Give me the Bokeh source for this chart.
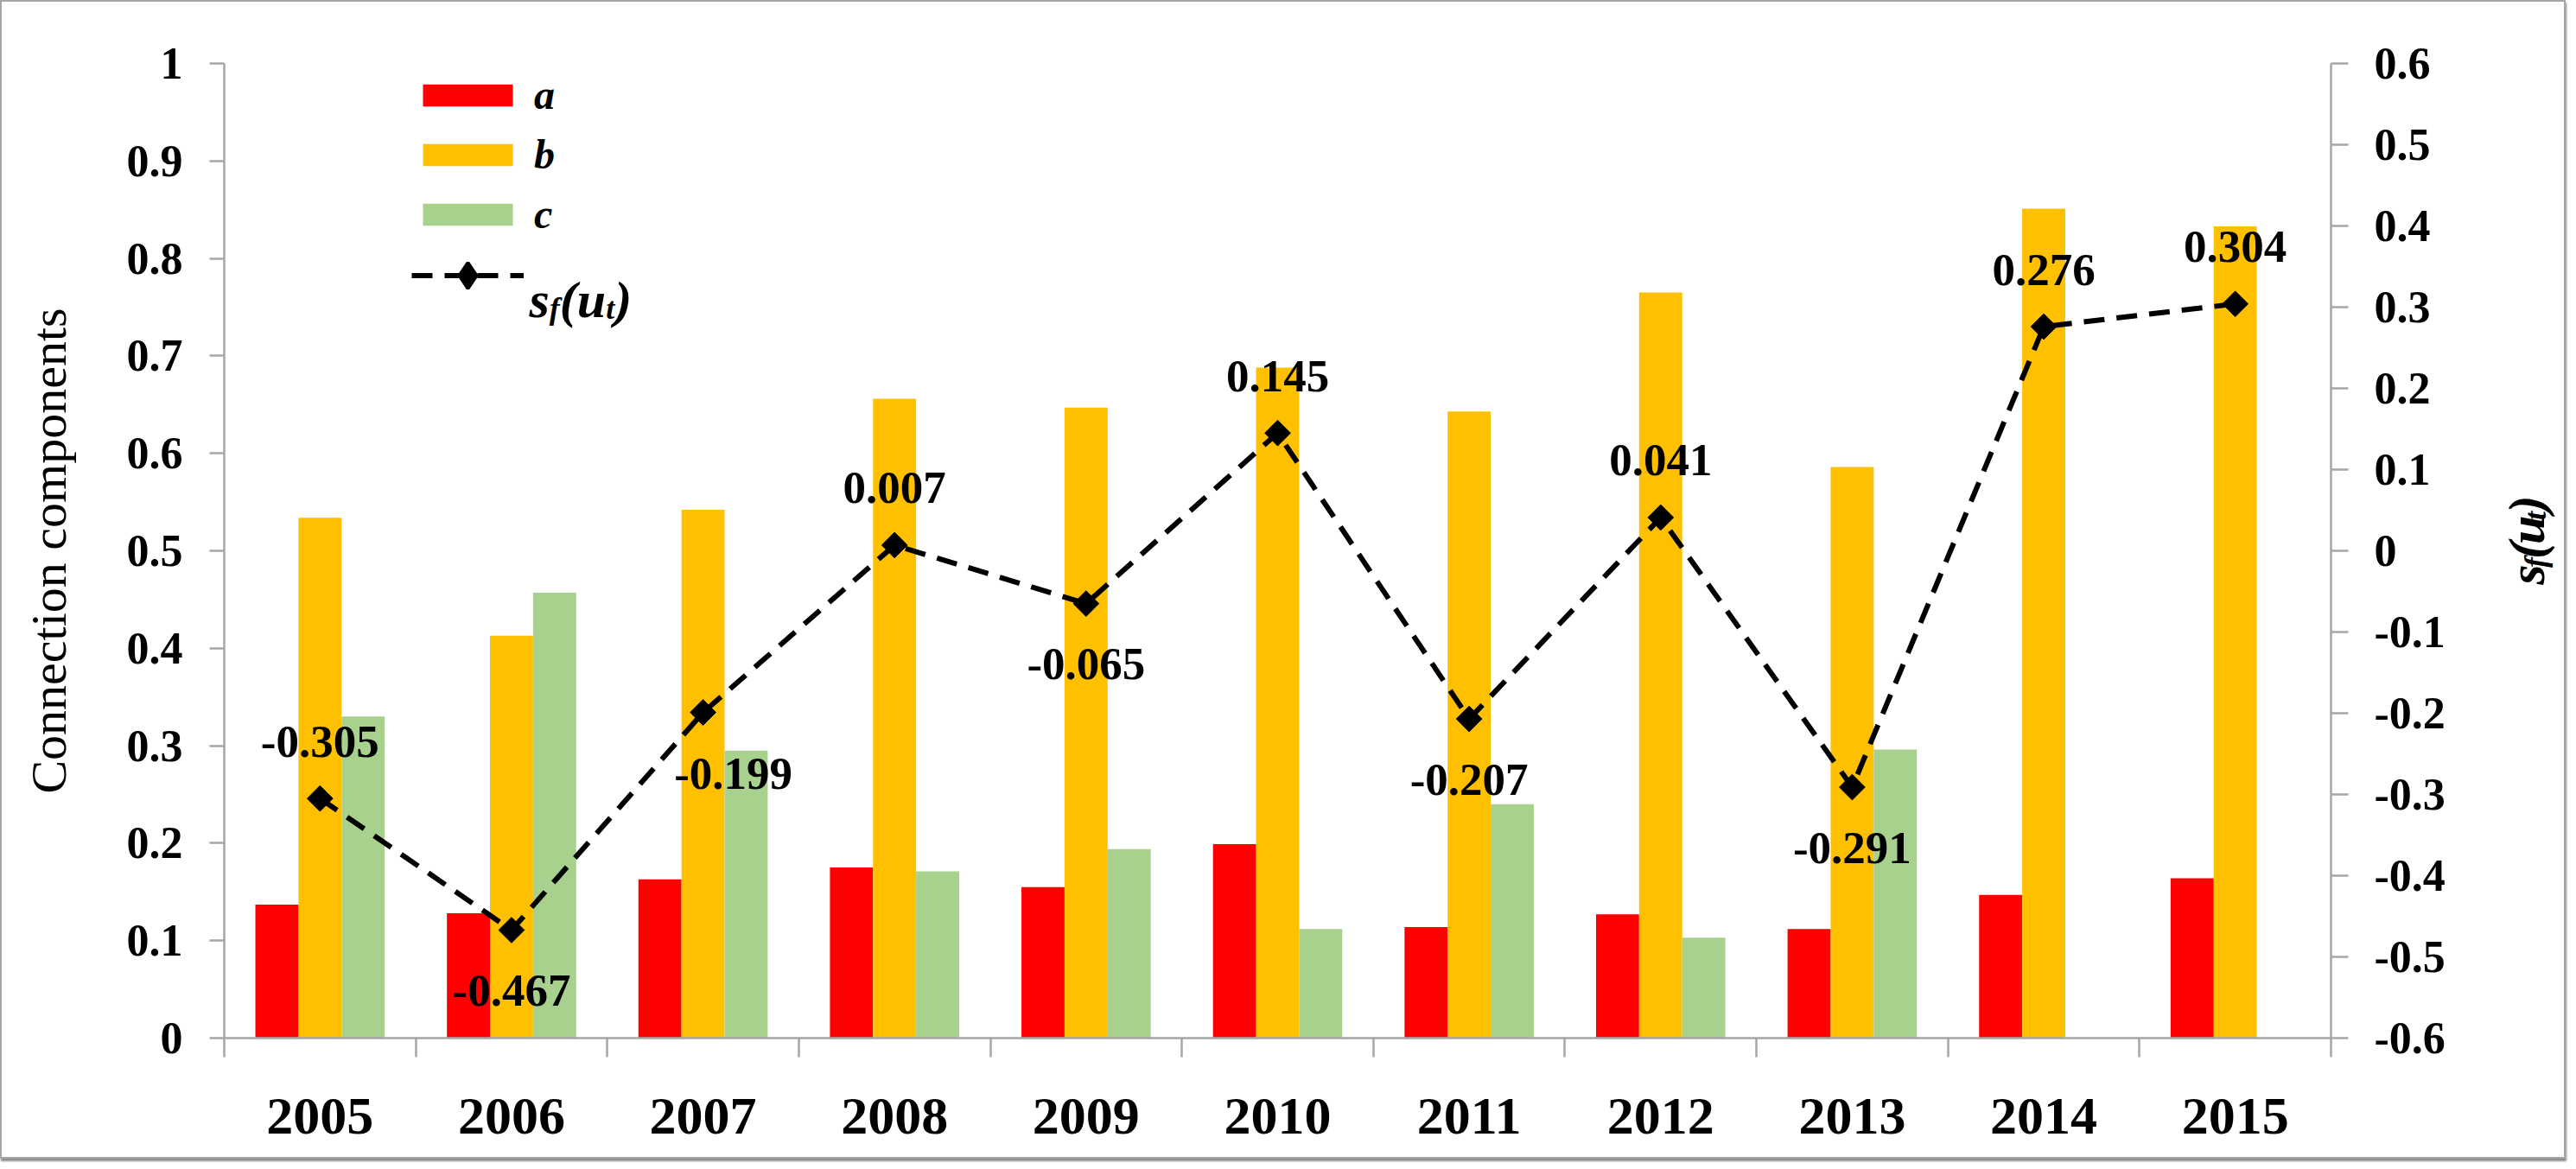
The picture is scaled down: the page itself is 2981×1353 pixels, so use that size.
import math
from bokeh.plotting import figure
from bokeh.layouts import row
from bokeh.models import (Range1d, LinearAxis, FixedTicker, CustomJSTickFormatter,
                          Legend, LegendItem, Label, ColumnDataSource)
from bokeh.transform import dodge
from bokeh.embed import file_html
from bokeh.resources import INLINE
from bokeh.core.properties import value

# ---------------- data ----------------
years = ["2005", "2006", "2007", "2008", "2009", "2010", "2011", "2012", "2013", "2014", "2015"]
comp_a = [0.137, 0.128, 0.163, 0.175, 0.155, 0.199, 0.114, 0.127, 0.112, 0.147, 0.164]
comp_b = [0.534, 0.413, 0.542, 0.656, 0.647, 0.688, 0.643, 0.765, 0.586, 0.851, 0.833]
comp_c = [0.330, 0.457, 0.295, 0.171, 0.194, 0.112, 0.240, 0.103, 0.296, 0.0, 0.0]
sf_ut = [-0.305, -0.467, -0.199, 0.007, -0.065, 0.145, -0.207, 0.041, -0.291, 0.276, 0.304]
label_place = ["above", "below", "below-right", "above", "below", "above",
               "below", "above", "below", "above", "above"]
left_ticks = [0, 0.1, 0.2, 0.3, 0.4, 0.5, 0.6, 0.7, 0.8, 0.9, 1]
right_ticks = [-0.6, -0.5, -0.4, -0.3, -0.2, -0.1, 0, 0.1, 0.2, 0.3, 0.4, 0.5, 0.6]

# ---------------- style ----------------
FONT = "Liberation Serif"
RED, YEL, GRN = "#FF0000", "#FFC000", "#A9D18E"
AX = "#A6A6A6"
BAR_W = 0.225
FIG_H = 1337

place_off = {"above": (0, -66), "below": (0, 70), "below-right": (35, 71)}
xs = list(range(len(years)))
src = ColumnDataSource(dict(
    x=xs, a=comp_a, b=comp_b, c=comp_c, sf=sf_ut,
    lbl=[f"{v:.3f}" for v in sf_ut],
    xo=[place_off[k][0] for k in label_place],
    yo=[place_off[k][1] for k in label_place],
))

p = figure(frame_width=2438, frame_height=1128,
           x_range=Range1d(-0.5, len(years) - 0.5), y_range=Range1d(0, 1),
           output_backend="svg", toolbar_location=None,
           min_border_left=257, min_border_right=155, min_border_top=71,
           min_border_bottom=FIG_H - 1128 - 71)
p.extra_y_ranges = {"sf": Range1d(-0.6, 0.6)}
p.grid.visible = False
p.outline_line_color = None
p.background_fill_color = "white"
p.border_fill_color = "white"

fmt = CustomJSTickFormatter(code="return String(Math.round(tick*10)/10);")

# x axis
xa = p.xaxis[0]
xa.ticker = FixedTicker(ticks=xs, minor_ticks=[i - 0.5 for i in range(len(years) + 1)])
xa.major_label_overrides = {i: y for i, y in enumerate(years)}
xa.major_tick_line_color = None
xa.major_tick_out = 0
xa.major_tick_in = 0
xa.minor_tick_out = 22
xa.minor_tick_in = 0
xa.minor_tick_line_color = AX
xa.minor_tick_line_width = 2.5
xa.axis_line_color = AX
xa.axis_line_width = 2.5
xa.major_label_text_font = FONT
xa.major_label_text_font_size = "62px"
xa.major_label_text_font_style = "bold"
xa.major_label_text_color = "black"
xa.major_label_standoff = 48

# left axis
ya = p.yaxis[0]
ya.ticker = FixedTicker(ticks=left_ticks)
ya.formatter = fmt
ya.major_tick_out = 17
ya.major_tick_in = 0
ya.minor_tick_line_color = None
ya.major_tick_line_color = AX
ya.major_tick_line_width = 2.5
ya.axis_line_color = AX
ya.axis_line_width = 2.5
ya.major_label_text_font = FONT
ya.major_label_text_font_size = "52px"
ya.major_label_text_font_style = "bold"
ya.major_label_text_color = "black"
ya.major_label_standoff = 31
ya.axis_label = "Connection components"
ya.axis_label_text_font = FONT
ya.axis_label_text_font_size = "58px"
ya.axis_label_text_font_style = "normal"
ya.axis_label_text_color = "black"
ya.axis_label_standoff = 55

# right axis
ra = LinearAxis(y_range_name="sf", ticker=FixedTicker(ticks=right_ticks), formatter=fmt)
ra.major_tick_out = 20
ra.major_tick_in = 0
ra.minor_tick_line_color = None
ra.major_tick_line_color = AX
ra.major_tick_line_width = 2.5
ra.axis_line_color = AX
ra.axis_line_width = 2.5
ra.major_label_text_font = FONT
ra.major_label_text_font_size = "52px"
ra.major_label_text_font_style = "bold"
ra.major_label_text_color = "black"
ra.major_label_standoff = 30
p.add_layout(ra, "right")

# bars
r_a = p.vbar(x=dodge("x", -BAR_W), top="a", width=BAR_W, fill_color=RED, line_color=None, source=src)
r_b = p.vbar(x="x", top="b", width=BAR_W, fill_color=YEL, line_color=None, source=src)
r_c = p.vbar(x=dodge("x", BAR_W), top="c", width=BAR_W, fill_color=GRN, line_color=None, source=src)

# line with markers
r_l = p.line("x", "sf", y_range_name="sf", line_color="black", line_width=6,
             line_dash="24 14", source=src)
r_m = p.scatter("x", "sf", y_range_name="sf", marker="square", angle=math.pi / 4, size=21,
                fill_color="black", line_color="black", source=src)
# marker used only for the legend swatch (a diamond, like the rotated square above);
# its single point is NaN, so nothing is drawn in the plot area
r_key = p.scatter(x=[float("nan")], y=[float("nan")], marker="diamond",
                  fill_color="black", line_color="black", line_width=4)

# data labels
p.text("x", "sf", text="lbl", y_range_name="sf", x_offset="xo", y_offset="yo",
       text_font=value(FONT), text_font_size="53px", text_font_style="bold",
       text_color="black", text_align="center", text_baseline="middle", source=src)

# legends (bars, then the line series with a larger glyph box so its marker shows)
legend_common = dict(orientation="vertical", glyph_width=130, label_standoff=12, padding=0,
                     margin=0, border_line_color=None, background_fill_alpha=0,
                     label_text_font=FONT, label_text_font_size="48px",
                     label_text_font_style="bold italic", label_text_color="black")
legend = Legend(items=[
    LegendItem(label="a", renderers=[r_a]),
    LegendItem(label="b", renderers=[r_b]),
    LegendItem(label="c", renderers=[r_c]),
], location=(217, 926), glyph_height=32, label_height=32, spacing=14, **legend_common)
p.add_layout(legend)
legend2 = Legend(items=[LegendItem(label=" ", renderers=[r_l, r_key])],
                 location=(217, 845), glyph_height=75, label_height=32, spacing=0,
                 **legend_common)
p.add_layout(legend2)

# rich text "s_f(u_t)" assembled from pieces
ADV = {"s": 0.389, "f": 0.333, "(": 0.333, "u": 0.556, "t": 0.278, ")": 0.333}
PIECES = [("s", False), ("f", True), ("(", False), ("u", False), ("t", True), (")", False)]


def rich_label(fig, x0, y0, rotated, units):
    pos = 0.0
    for ch, sub in PIECES:
        size = 36 if sub else 60
        shift = 10 if sub else 0
        if rotated:
            x, y, ang = x0 + shift, y0 + pos, math.pi / 2
        else:
            x, y, ang = x0 + pos, y0 - shift, 0
        fig.add_layout(Label(x=x, y=y, x_units=units, y_units=units, text=ch, angle=ang,
                             text_font=FONT, text_font_size=f"{size}px",
                             text_font_style="bold italic", text_color="black",
                             text_align="left", text_baseline="alphabetic"))
        pos += ADV[ch] * size


rich_label(p, 353, 855, rotated=False, units="screen")

# narrow companion panel carrying the right-hand axis title
T_W = 115
pt = figure(width=T_W, height=FIG_H, x_range=Range1d(0, T_W), y_range=Range1d(0, FIG_H),
            output_backend="svg", toolbar_location=None, min_border=0)
pt.axis.visible = False
pt.grid.visible = False
pt.outline_line_color = None
pt.background_fill_color = "white"
pt.border_fill_color = "white"
rich_label(pt, 71, 622, rotated=True, units="data")

lay = row(p, pt)
lay.styles = {"border": "2px solid #a6a6a6", "box-shadow": "1px 3px 2px #8c8c8c"}

open("out.html", "w").write(file_html(lay, INLINE))
